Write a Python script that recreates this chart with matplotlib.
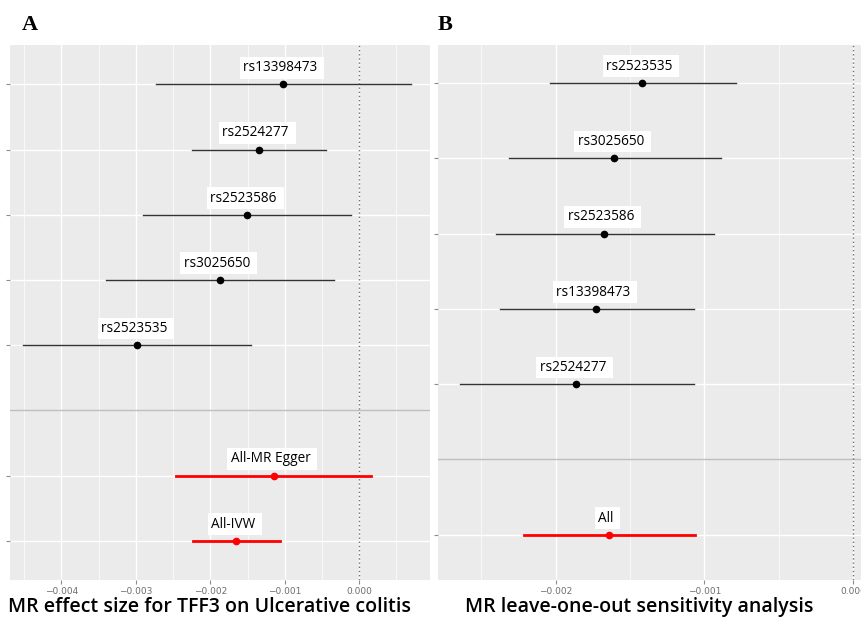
import numpy as np
import matplotlib
matplotlib.use("Agg")
import matplotlib.pyplot as plt

# Panel A: single SNP and combined MR estimates (top to bottom)
a_labels = ["rs13398473", "rs2524277", "rs2523586", "rs3025650", "rs2523535",
            "All-MR Egger", "All-IVW"]
a_beta = [-0.00102, -0.00135, -0.00151, -0.00187, -0.00298, -0.00115, -0.00165]
a_lo = [-0.00273, -0.00224, -0.00290, -0.00340, -0.00451, -0.00246, -0.00223]
a_hi = [0.00070, -0.00045, -0.00011, -0.00034, -0.00145, 0.00016, -0.00107]
a_pos = [8, 7, 6, 5, 4, 2, 1]
a_combined = [False, False, False, False, False, True, True]

# Panel B: leave-one-out (top to bottom)
b_labels = ["rs2523535", "rs3025650", "rs2523586", "rs13398473", "rs2524277", "All"]
b_beta = [-0.001416, -0.001606, -0.001673, -0.001725, -0.001861, -0.001642]
b_lo = [-0.002036, -0.002313, -0.002398, -0.002376, -0.002644, -0.002215]
b_hi = [-0.000790, -0.000888, -0.000937, -0.001067, -0.001067, -0.001062]
b_pos = [7, 6, 5, 4, 3, 1]
b_combined = [False, False, False, False, False, True]

fig = plt.figure(figsize=(8.62, 6.19), dpi=100)
lab_font = "Open Sans"


def forest(ax, labels, beta, lo, hi, pos, combined, sep, xlim, ylim, major, minor, title):
    ax.set_facecolor("#EBEBEB")
    for x in minor:
        ax.axvline(x, color="white", lw=0.5, zorder=0)
    for x in major:
        ax.axvline(x, color="white", lw=1.0, zorder=0)
    for y in pos:
        ax.axhline(y, color="white", lw=1.0, zorder=0)
    ax.axhline(sep, color="#BEBEBE", lw=1.0, zorder=1)
    ax.axvline(0, color="#707070", lw=1.0, ls=(0, (1, 2)), zorder=1)
    for lab, b, l, h, p, c in zip(labels, beta, lo, hi, pos, combined):
        lcol = "#FF0000" if c else "#333333"
        pcol = "#FF0000" if c else "black"
        ax.plot([l, h], [p, p], color=lcol, lw=2.0 if c else 1.0, zorder=2)
        ax.plot(b, p, "o", color=pcol, ms=4.5, zorder=3)
        ax.annotate(lab + " ", (b, p), xytext=(-1, 12), textcoords="offset points",
                    ha="center", va="center", fontsize=9.8, family=lab_font,
                    color="black",
                    bbox=dict(boxstyle="square,pad=0.25", fc="white", ec="none"))
    ax.set_xlim(*xlim)
    ax.set_ylim(*ylim)
    ax.set_xticks(major)
    ax.set_xticklabels([f"{v:.3f}".replace("-", "\u2212") for v in major])
    ax.set_yticks(pos)
    ax.set_yticklabels([])
    ax.tick_params(axis="x", labelsize=6.5, labelcolor="#6E6E6E", color="#8C8C8C",
                   length=3, pad=2)
    ax.tick_params(axis="y", color="#8C8C8C", length=3)
    for s in ax.spines.values():
        s.set_visible(False)
    ax.set_xlabel(title, fontsize=14, family="Open Sans", fontweight="semibold",
                  labelpad=1)
    ax.xaxis.label.set_x(0.474)


axA = fig.add_axes([0.0116, 0.063, 0.4872, 0.864])
forest(axA, a_labels, a_beta, a_lo, a_hi, a_pos, a_combined, 3,
       (-0.00469, 0.00095), (0.4, 8.6),
       [-0.004, -0.003, -0.002, -0.001, 0.0],
       [-0.0045, -0.0035, -0.0025, -0.0015, -0.0005, 0.0005],
       "MR effect size for TFF3 on Ulcerative colitis")

axB = fig.add_axes([0.508, 0.063, 0.4919, 0.864])
forest(axB, b_labels, b_beta, b_lo, b_hi, b_pos, b_combined, 2,
       (-0.00279, 0.0000577), (0.4, 7.5),
       [-0.002, -0.001, 0.0],
       [-0.0025, -0.0015, -0.0005],
       "MR leave-one-out sensitivity analysis")

fig.text(22 / 862, 1 - 25 / 619, "A", fontsize=16, family="Liberation Serif",
         fontweight="bold", va="center", ha="left")
fig.text(438 / 862, 1 - 25 / 619, "B", fontsize=16, family="Liberation Serif",
         fontweight="bold", va="center", ha="left")

fig.savefig("out.png", dpi=100)
